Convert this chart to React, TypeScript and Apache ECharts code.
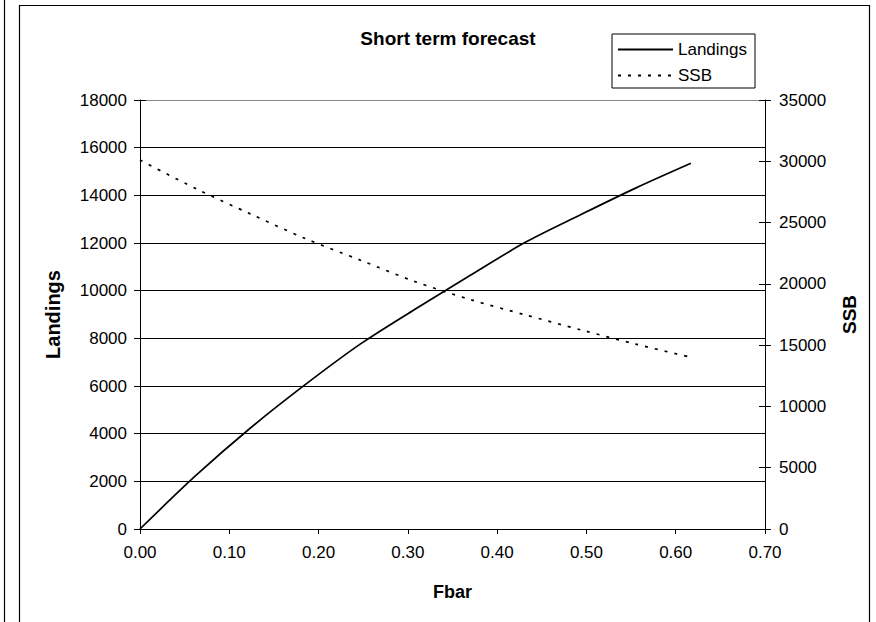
import React, { useEffect, useRef } from "react";
import * as echarts from "echarts";

const fbar = [0, 0.062, 0.123, 0.185, 0.247, 0.308, 0.37, 0.432, 0.494, 0.555, 0.617];
const landings = [0, 2225, 4217, 6055, 7766, 9220, 10643, 12037, 13196, 14303, 15345];
const ssb = [30100, 27789, 25729, 23701, 21930, 20186, 18714, 17460, 16241, 15088, 14010];

const FONT = "'Liberation Sans', Arial, sans-serif";

export default function App() {
  const ref = useRef<HTMLDivElement>(null);
  useEffect(() => {
    if (!ref.current) return;
    const chart = echarts.init(ref.current, undefined, { renderer: "svg" });
    const gridColors = ["#000", "#000", "#000", "#000", "#000", "#000", "#000", "#000", "#000", "#888"];
    const plain = (v: number) => String(v);
    chart.setOption({
      animation: false,
      backgroundColor: "#fff",
      textStyle: { fontFamily: FONT, color: "#000" },
      title: {
        text: "Short term forecast",
        left: 443,
        textAlign: "center",
        top: 24,
        textStyle: { fontFamily: FONT, fontSize: 19, fontWeight: "bold", color: "#000" },
      },
      legend: {
        orient: "vertical",
        left: 612,
        top: 34,
        padding: [7, 8, 4, 5],
        itemWidth: 55,
        itemHeight: 14,
        itemGap: 9,
        borderColor: "#000",
        borderWidth: 1,
        backgroundColor: "#fff",
        itemStyle: { opacity: 0 },
        textStyle: { fontFamily: FONT, fontSize: 17, color: "#000" },
        data: ["Landings", "SSB"],
      },
      grid: { left: 140, right: 111, top: 100, bottom: 93, containLabel: false },
      xAxis: {
        type: "value",
        min: 0,
        max: 0.7,
        interval: 0.1,
        name: "Fbar",
        nameLocation: "middle",
        nameGap: 54,
        nameTextStyle: { fontFamily: FONT, fontSize: 18, fontWeight: "bold", color: "#000" },
        axisLine: { lineStyle: { color: "#000", width: 1 } },
        axisTick: { show: true, length: 5, lineStyle: { color: "#000" } },
        axisLabel: {
          margin: 15,
          fontFamily: FONT,
          fontSize: 17,
          color: "#000",
          formatter: (v: number) => v.toFixed(2),
        },
        splitLine: { show: false },
      },
      yAxis: [
        {
          type: "value",
          position: "left",
          min: 0,
          max: 18000,
          interval: 2000,
          name: "Landings",
          nameLocation: "middle",
          nameRotate: 90,
          nameGap: 77,
          nameTextStyle: { fontFamily: FONT, fontSize: 20, fontWeight: "bold", color: "#000" },
          axisLine: { show: true, lineStyle: { color: "#000", width: 1 } },
          axisTick: { show: true, length: 6, lineStyle: { color: "#000" } },
          axisLabel: { margin: 13, fontFamily: FONT, fontSize: 17, color: "#000", formatter: plain },
          splitLine: { show: true, lineStyle: { color: gridColors, width: 1 } },
        },
        {
          type: "value",
          position: "right",
          min: 0,
          max: 35000,
          interval: 5000,
          name: "SSB",
          nameLocation: "middle",
          nameRotate: 90,
          nameGap: 75,
          nameTextStyle: { fontFamily: FONT, fontSize: 19, fontWeight: "bold", color: "#000" },
          axisLine: { show: true, lineStyle: { color: "#000", width: 1 } },
          axisTick: { show: true, length: 6, lineStyle: { color: "#000" } },
          axisLabel: { margin: 14, fontFamily: FONT, fontSize: 17, color: "#000", formatter: plain },
          splitLine: { show: false },
        },
        {
          type: "value",
          position: "left",
          min: 0,
          max: 18000,
          interval: 2000,
          axisLine: { show: false },
          axisTick: { show: true, inside: true, length: 6, lineStyle: { color: "#000" } },
          axisLabel: { show: false },
          splitLine: { show: false },
        },
        {
          type: "value",
          position: "right",
          min: 0,
          max: 35000,
          interval: 5000,
          axisLine: { show: false },
          axisTick: { show: true, inside: true, length: 6, lineStyle: { color: "#000" } },
          axisLabel: { show: false },
          splitLine: { show: false },
        },
      ],
      series: [
        {
          name: "Landings",
          type: "line",
          yAxisIndex: 0,
          data: fbar.map((f, i) => [f, landings[i]]),
          showSymbol: false,
          symbol: "none",
          smooth: 0.3,
          lineStyle: { color: "#000", width: 1.7, type: "solid" },
          itemStyle: { color: "#000" },
        },
        {
          name: "SSB",
          type: "line",
          yAxisIndex: 1,
          data: fbar.map((f, i) => [f, ssb[i]]),
          showSymbol: false,
          symbol: "none",
          smooth: 0.3,
          lineStyle: { color: "#000", width: 1.7, type: [3, 7] },
          itemStyle: { color: "#000" },
        },
      ],
      graphic: [
        {
          type: "rect",
          shape: { x: 19.5, y: 5.5, width: 850, height: 640 },
          style: { fill: "none", stroke: "#000", lineWidth: 1.2 },
          silent: true,
          z: -10,
        },
        {
          type: "line",
          shape: { x1: 4.5, y1: 0, x2: 4.5, y2: 622 },
          style: { stroke: "#000", lineWidth: 1.2 },
          silent: true,
        },
      ],
    });
    return () => chart.dispose();
  }, []);
  return (
    <div
      ref={ref}
      style={{ position: "fixed", left: 0, top: 0, width: 876, height: 622, background: "#fff" }}
    />
  );
}
